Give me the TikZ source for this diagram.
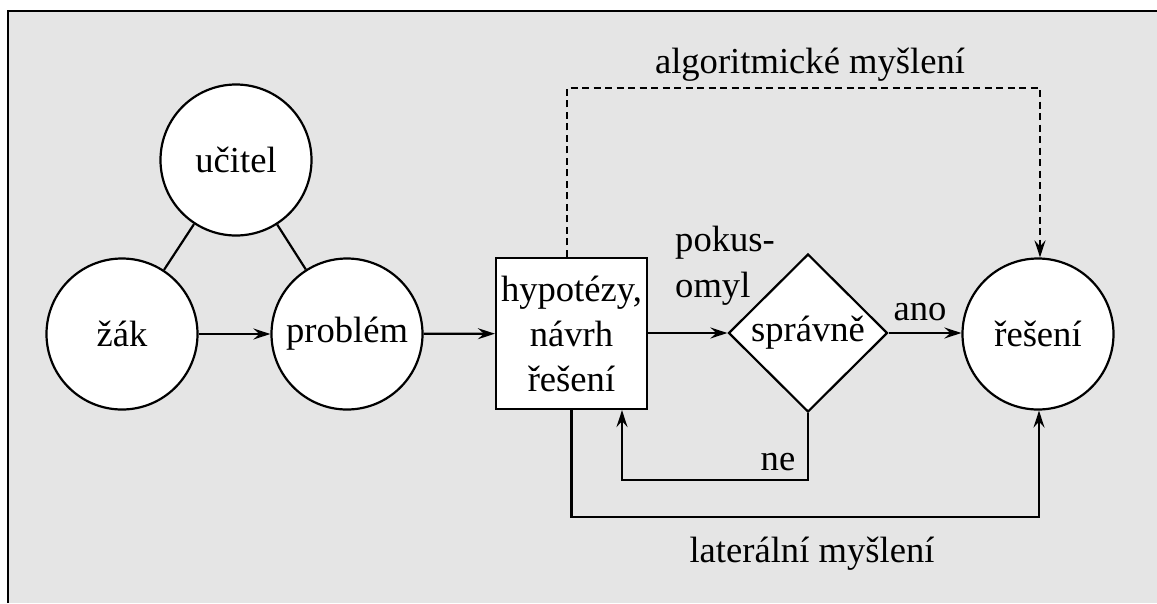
\documentclass[tikz,border=0pt]{standalone}
\usepackage{fontspec}
\setmainfont{Liberation Serif}
\usetikzlibrary{shapes.geometric,arrows.meta}
\definecolor{panel}{HTML}{E5E5E5}
\begin{document}
\begin{tikzpicture}[x=1pt,y=-1pt,
  every node/.style={font=\fontsize{36.6}{45}\selectfont, inner sep=0pt},
  conn/.style={line width=2.2pt},
  arr/.style={conn, -{Stealth[length=17pt,width=11pt,inset=6pt]}},
  dashconn/.style={arr, dash pattern=on 7pt off 4.5pt},
  roundbox/.style={circle, draw, fill=white, line width=2.2pt, minimum size=151pt},
  stepbox/.style={rectangle, draw, fill=white, line width=2.2pt, minimum width=151pt, minimum height=151pt, align=center},
  decision/.style={diamond, draw, fill=white, line width=2.2pt, minimum width=159pt, minimum height=158pt},
  lbl/.style={anchor=base}
]
\useasboundingbox (0,0) rectangle (1157,603);
% panel with its top and left rules
\fill[panel] (8,11) rectangle (1157,603);
\draw[line width=2.4pt] (8,603) -- (8,11) -- (1157,11);

% nodes
\node[roundbox] (ucitel) at (236,160) {učitel};
\node[roundbox] (zak) at (122,334) {žák};
\node[roundbox] (problem) at (347,334) {problém};
\node[stepbox] (hyp) at (571.5,333.5) {hypotézy,\\návrh\\řešení};
\node[decision] (dia) at (808,333) {správně};
\node[roundbox] (res) at (1038,334) {řešení};

% connectors
\draw[conn] (ucitel) -- (zak);
\draw[conn] (ucitel) -- (problem);
\draw[arr] (zak) -- (problem);
\draw[arr] (problem) -- (hyp);
\draw[arr] (hyp.east |- dia.west) -- (dia.west);
\draw[arr] (dia.east) -- (res.west |- dia.east);

\coordinate (algtop) at (810,88);
\coordinate (latbot) at (810,517);
\coordinate (nebot) at (715,480);
\draw[dashconn] ([xshift=-4.5pt]hyp.north) |- (algtop) -| ([xshift=2pt]res.north);
\draw[arr] (hyp.south) |- (latbot) -| ([xshift=1pt]res.south);
\draw[arr] (dia.south) |- (nebot) -| ([xshift=50.5pt]hyp.south);

% labels
\node[lbl] (alglbl) at (810,73) {algoritmické myšlení};
\node[lbl] (latlbl) at (812,562) {laterální myšlení};
\node[lbl] (anolbl) at (920,320) {ano};
\node[lbl] (nelbl) at (778,470) {ne};
\node[anchor=base west] (pok1) at (675,251) {pokus-};
\node[anchor=base west] (pok2) at (675,297) {omyl};
\end{tikzpicture}
\end{document}
